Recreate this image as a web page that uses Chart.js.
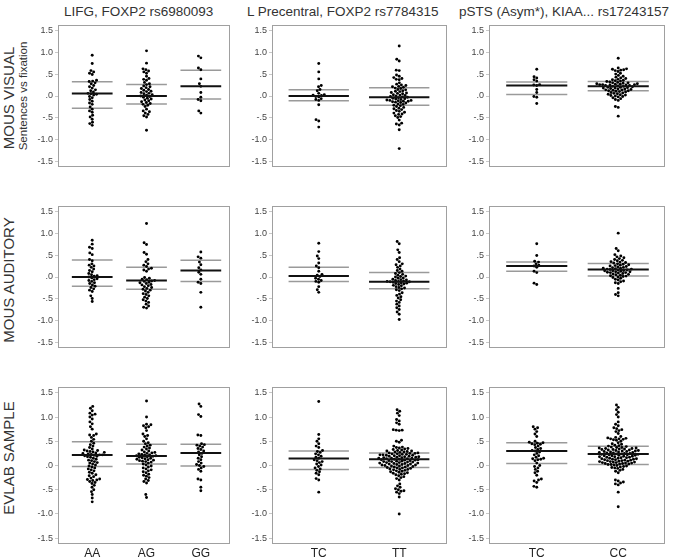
<!DOCTYPE html>
<html>
<head>
<meta charset="utf-8">
<script src="https://cdn.jsdelivr.net/npm/chart.js@4"></script>
<style>
html,body{margin:0;padding:0;background:#fff;}
#wrap{position:relative;width:677px;height:558px;overflow:hidden;font-family:"Liberation Sans",Arial,sans-serif;color:#333;}
canvas{position:absolute;}
.title{position:absolute;top:4px;font-size:13.5px;white-space:nowrap;color:#333;}
.rowlab{position:absolute;white-space:nowrap;transform:translate(-50%,-50%) rotate(-90deg);color:#333;}
</style>
</head>
<body>
<div id="wrap"></div>
<script>
// ---------- labels ----------
const rowNames = ["MOUS VISUAL", "MOUS AUDITORY", "EVLAB SAMPLE"];
const yAxisTitle = "Sentences vs fixation";
const colTitles = ["LIFG, FOXP2 rs6980093", "L Precentral, FOXP2 rs7784315", "pSTS (Asym*), KIAA... rs17243157"];
const col1Cats = ["AA", "AG", "GG"];
const col2Cats = ["TC", "TT"];
const col3Cats = ["TC", "CC"];
const yTickValues = [-1.5, -1, -0.5, 0, 0.5, 1, 1.5];
const yTickLabels = ["-1.5", "-1.0", "-.5", ".0", ".5", "1.0", "1.5"];

// ---------- MOUS VISUAL ----------
const visLifgAA = [0.93,0.74,0.58,0.55,0.52,0.49,0.36,0.34,0.33,0.30,0.28,0.24,0.21,0.18,0.14,0.12,0.09,0.06,0.05,0.04,0.02,-0.01,-0.04,-0.08,-0.12,-0.16,-0.19,-0.25,-0.30,-0.34,-0.37,-0.44,-0.48,-0.53,-0.60,-0.63,-0.67];
const visLifgAG = [1.03,0.75,0.62,0.60,0.57,0.55,0.52,0.45,0.40,0.38,0.36,0.31,0.28,0.26,0.23,0.21,0.19,0.17,0.15,0.13,0.11,0.10,0.08,0.06,0.05,0.03,0.02,0.00,-0.01,-0.03,-0.05,-0.07,-0.09,-0.11,-0.13,-0.15,-0.17,-0.19,-0.21,-0.24,-0.30,-0.34,-0.36,-0.39,-0.42,-0.45,-0.48,-0.78];
const visLifgGG = [0.91,0.87,0.64,0.60,0.39,0.28,0.22,0.08,-0.03,-0.08,-0.11,-0.34,-0.39];
const visPrecTC = [0.74,0.55,0.39,0.24,0.21,0.15,0.12,0.06,0.03,0.02,0.01,-0.01,-0.02,-0.06,-0.08,-0.10,-0.20,-0.54,-0.57,-0.71];
const visPrecTT = [1.14,0.84,0.80,0.59,0.58,0.48,0.45,0.42,0.40,0.38,0.37,0.30,0.27,0.25,0.24,0.22,0.21,0.20,0.18,0.17,0.15,0.14,0.12,0.11,0.10,0.08,0.07,0.06,0.05,0.03,0.02,0.01,0.00,-0.01,-0.02,-0.03,-0.04,-0.05,-0.06,-0.07,-0.08,-0.09,-0.10,-0.10,-0.11,-0.12,-0.12,-0.13,-0.14,-0.15,-0.16,-0.18,-0.19,-0.21,-0.22,-0.24,-0.26,-0.28,-0.29,-0.31,-0.33,-0.35,-0.37,-0.39,-0.41,-0.42,-0.45,-0.47,-0.49,-0.55,-0.62,-0.64,-0.66,-0.77,-1.20];
const visStsTC = [0.61,0.44,0.41,0.37,0.34,0.26,0.25,0.24,0.15,0.08,-0.01,-0.03,-0.17];
const visStsCC = [0.86,0.64,0.62,0.61,0.60,0.59,0.58,0.56,0.52,0.50,0.47,0.45,0.43,0.41,0.40,0.38,0.37,0.36,0.35,0.34,0.33,0.32,0.31,0.30,0.30,0.29,0.28,0.28,0.27,0.27,0.26,0.26,0.26,0.25,0.25,0.24,0.24,0.23,0.22,0.22,0.21,0.20,0.20,0.19,0.18,0.18,0.17,0.16,0.16,0.15,0.14,0.14,0.13,0.12,0.12,0.11,0.10,0.09,0.08,0.07,0.06,0.05,0.04,0.03,0.02,0.01,0.00,-0.01,-0.02,-0.04,-0.06,-0.08,-0.10,-0.24,-0.26,-0.46];
const visLifgMean = [0.055, 0.0, 0.22], visLifgUpper = [0.325, 0.263, 0.588], visLifgLower = [-0.277, -0.18, -0.07];
const visPrecMean = [0.0, -0.03], visPrecUpper = [0.14, 0.19], visPrecLower = [-0.11, -0.21];
const visStsMean = [0.24, 0.22], visStsUpper = [0.32, 0.33], visStsLower = [0.035, 0.12];

// ---------- MOUS AUDITORY ----------
const audLifgAA = [0.84,0.75,0.68,0.65,0.55,0.51,0.40,0.37,0.30,0.27,0.25,0.22,0.18,0.15,0.12,0.08,0.05,0.03,0.02,0.00,-0.02,-0.04,-0.06,-0.08,-0.10,-0.13,-0.15,-0.18,-0.21,-0.24,-0.27,-0.30,-0.33,-0.43,-0.49,-0.56];
const audLifgAG = [1.22,0.78,0.74,0.56,0.52,0.40,0.35,0.30,0.27,0.24,0.20,0.18,0.16,0.13,-0.01,-0.03,-0.05,-0.06,-0.08,-0.09,-0.10,-0.12,-0.13,-0.15,-0.17,-0.18,-0.20,-0.22,-0.24,-0.26,-0.28,-0.30,-0.32,-0.35,-0.38,-0.40,-0.43,-0.46,-0.49,-0.52,-0.55,-0.58,-0.62,-0.66,-0.69,-0.71];
const audLifgGG = [0.57,0.46,0.43,0.34,0.28,0.21,0.16,0.11,0.06,-0.05,-0.12,-0.15,-0.35,-0.69];
const audPrecTC = [0.77,0.58,0.48,0.42,0.32,0.25,0.21,0.13,0.06,0.04,0.01,-0.03,-0.05,-0.08,-0.10,-0.12,-0.22,-0.29,-0.35];
const audPrecTT = [0.81,0.76,0.62,0.56,0.44,0.40,0.35,0.30,0.28,0.25,0.22,0.18,0.15,0.13,0.10,0.08,0.06,0.04,0.02,0.01,0.00,-0.02,-0.03,-0.05,-0.06,-0.07,-0.08,-0.09,-0.10,-0.10,-0.11,-0.11,-0.12,-0.13,-0.14,-0.15,-0.16,-0.17,-0.19,-0.20,-0.22,-0.24,-0.25,-0.27,-0.29,-0.31,-0.36,-0.39,-0.42,-0.45,-0.48,-0.52,-0.55,-0.58,-0.62,-0.66,-0.70,-0.74,-0.80,-0.85,-0.97];
const audStsTC = [0.76,0.49,0.36,0.34,0.30,0.27,0.25,0.22,0.13,0.10,-0.14,-0.17];
const audStsCC = [1.00,0.65,0.60,0.51,0.48,0.46,0.44,0.42,0.40,0.38,0.37,0.35,0.34,0.33,0.32,0.30,0.29,0.28,0.27,0.26,0.25,0.24,0.23,0.22,0.21,0.20,0.20,0.19,0.18,0.18,0.17,0.16,0.16,0.15,0.14,0.14,0.13,0.12,0.12,0.11,0.10,0.10,0.09,0.08,0.07,0.06,0.05,0.04,0.03,0.02,0.01,0.00,-0.01,-0.03,-0.05,-0.07,-0.09,-0.11,-0.13,-0.15,-0.26,-0.36,-0.40,-0.43];
const audLifgMean = [0.0, -0.08, 0.15], audLifgUpper = [0.39, 0.22, 0.38], audLifgLower = [-0.21, -0.28, -0.10];
const audPrecMean = [0.02, -0.11], audPrecUpper = [0.22, 0.10], audPrecLower = [-0.10, -0.27];
const audStsMean = [0.25, 0.17], audStsUpper = [0.34, 0.31], audStsLower = [0.13, 0.02];

// ---------- EVLAB SAMPLE ----------
const evlLifgAA = [1.22,1.18,1.13,1.08,1.06,1.04,1.00,0.96,0.90,0.86,0.80,0.75,0.65,0.63,0.62,0.58,0.54,0.50,0.46,0.43,0.40,0.37,0.34,0.32,0.31,0.30,0.29,0.28,0.27,0.26,0.25,0.24,0.23,0.22,0.22,0.21,0.20,0.19,0.18,0.17,0.15,0.13,0.11,0.10,0.08,0.06,0.05,0.03,0.01,-0.01,-0.03,-0.05,-0.07,-0.09,-0.11,-0.14,-0.16,-0.19,-0.21,-0.23,-0.26,-0.28,-0.29,-0.30,-0.31,-0.33,-0.35,-0.37,-0.41,-0.45,-0.50,-0.54,-0.60,-0.67,-0.75];
const evlLifgAG = [1.33,1.00,0.85,0.84,0.82,0.80,0.78,0.72,0.65,0.62,0.60,0.55,0.50,0.47,0.45,0.42,0.40,0.38,0.36,0.34,0.32,0.30,0.28,0.27,0.26,0.25,0.24,0.23,0.22,0.21,0.20,0.20,0.19,0.18,0.17,0.16,0.15,0.14,0.13,0.12,0.11,0.10,0.09,0.08,0.07,0.05,0.03,0.01,-0.01,-0.03,-0.05,-0.07,-0.09,-0.11,-0.13,-0.15,-0.18,-0.20,-0.22,-0.25,-0.28,-0.31,-0.33,-0.36,-0.60,-0.66];
const evlLifgGG = [1.27,1.22,1.05,1.01,0.63,0.62,0.45,0.43,0.42,0.40,0.38,0.35,0.33,0.30,0.28,0.25,0.22,0.18,0.15,0.12,0.08,0.05,0.02,0.00,-0.02,-0.05,-0.08,-0.12,-0.28,-0.30,-0.45,-0.52];
const evlPrecTC = [1.32,0.64,0.55,0.50,0.45,0.40,0.37,0.31,0.29,0.27,0.24,0.22,0.19,0.17,0.15,0.12,0.10,0.08,0.06,0.03,0.01,-0.02,-0.05,-0.07,-0.10,-0.13,-0.16,-0.19,-0.27,-0.30,-0.55];
const evlPrecTT = [1.15,1.12,1.08,1.03,0.95,0.92,0.88,0.85,0.74,0.73,0.73,0.72,0.52,0.50,0.48,0.40,0.38,0.37,0.36,0.35,0.34,0.33,0.32,0.31,0.30,0.30,0.29,0.28,0.28,0.27,0.26,0.26,0.25,0.25,0.24,0.24,0.23,0.23,0.22,0.22,0.21,0.21,0.20,0.20,0.19,0.19,0.18,0.18,0.17,0.17,0.16,0.16,0.15,0.15,0.15,0.14,0.14,0.13,0.13,0.12,0.12,0.11,0.11,0.10,0.10,0.09,0.09,0.08,0.08,0.07,0.07,0.06,0.06,0.05,0.05,0.04,0.04,0.03,0.03,0.02,0.02,0.01,0.01,0.00,0.00,-0.01,-0.01,-0.02,-0.03,-0.03,-0.04,-0.05,-0.05,-0.06,-0.07,-0.08,-0.08,-0.09,-0.10,-0.11,-0.12,-0.13,-0.14,-0.15,-0.16,-0.17,-0.18,-0.19,-0.21,-0.23,-0.25,-0.27,-0.30,-0.38,-0.42,-0.45,-0.48,-0.50,-0.52,-0.53,-0.55,-0.58,-0.65,-1.00];
const evlStsTC = [0.80,0.78,0.75,0.70,0.65,0.60,0.50,0.48,0.47,0.46,0.45,0.44,0.43,0.40,0.37,0.35,0.33,0.31,0.30,0.28,0.25,0.22,0.20,0.17,0.15,0.14,0.13,0.12,0.10,0.05,0.00,-0.02,-0.05,-0.08,-0.12,-0.15,-0.20,-0.28,-0.30,-0.32,-0.35,-0.43,-0.45];
const evlStsCC = [1.25,1.20,1.15,1.10,1.05,1.00,0.90,0.85,0.82,0.78,0.76,0.74,0.72,0.70,0.66,0.60,0.58,0.57,0.56,0.55,0.55,0.54,0.53,0.52,0.50,0.47,0.45,0.44,0.42,0.41,0.40,0.39,0.38,0.37,0.37,0.36,0.36,0.35,0.35,0.34,0.34,0.33,0.33,0.32,0.32,0.31,0.31,0.30,0.30,0.29,0.29,0.28,0.28,0.27,0.27,0.26,0.26,0.25,0.25,0.24,0.24,0.23,0.23,0.22,0.22,0.21,0.21,0.20,0.20,0.19,0.19,0.18,0.18,0.17,0.17,0.16,0.16,0.15,0.15,0.14,0.14,0.13,0.13,0.12,0.12,0.11,0.11,0.10,0.10,0.09,0.09,0.08,0.08,0.07,0.07,0.06,0.06,0.05,0.05,0.04,0.04,0.03,0.03,0.02,0.02,0.01,0.00,-0.01,-0.02,-0.03,-0.04,-0.05,-0.06,-0.08,-0.10,-0.12,-0.15,-0.30,-0.32,-0.34,-0.36,-0.38,-0.40,-0.55,-0.85];
const evlLifgMean = [0.215, 0.195, 0.26], evlLifgUpper = [0.49, 0.44, 0.44], evlLifgLower = [-0.02, 0.03, -0.01];
const evlPrecMean = [0.145, 0.13], evlPrecUpper = [0.30, 0.26], evlPrecLower = [-0.08, -0.04];
const evlStsMean = [0.30, 0.235], evlStsUpper = [0.47, 0.395], evlStsLower = [0.04, 0.02];

// ---------- panel assembly ----------
const panels = [
  [ {cats: col1Cats, groups: [visLifgAA, visLifgAG, visLifgGG], mean: visLifgMean, up: visLifgUpper, lo: visLifgLower},
    {cats: col2Cats, groups: [visPrecTC, visPrecTT], mean: visPrecMean, up: visPrecUpper, lo: visPrecLower},
    {cats: col3Cats, groups: [visStsTC, visStsCC], mean: visStsMean, up: visStsUpper, lo: visStsLower} ],
  [ {cats: col1Cats, groups: [audLifgAA, audLifgAG, audLifgGG], mean: audLifgMean, up: audLifgUpper, lo: audLifgLower},
    {cats: col2Cats, groups: [audPrecTC, audPrecTT], mean: audPrecMean, up: audPrecUpper, lo: audPrecLower},
    {cats: col3Cats, groups: [audStsTC, audStsCC], mean: audStsMean, up: audStsUpper, lo: audStsLower} ],
  [ {cats: col1Cats, groups: [evlLifgAA, evlLifgAG, evlLifgGG], mean: evlLifgMean, up: evlLifgUpper, lo: evlLifgLower},
    {cats: col2Cats, groups: [evlPrecTC, evlPrecTT], mean: evlPrecMean, up: evlPrecUpper, lo: evlPrecLower},
    {cats: col3Cats, groups: [evlStsTC, evlStsCC], mean: evlStsMean, up: evlStsUpper, lo: evlStsLower} ]
];

// layout (pixels)
const colFrames = [[58, 229, 0.370, 3.537], [272, 446, 0.419, 2.594], [489, 664, 0.414, 2.574]];
const rowTops = [25, 206, 387];
const frameH = 156;
const AXW = 40, XAXH = 15;
const HALF = 0.375;
const DOT = 3.0;

const wrap = document.getElementById('wrap');

// titles and row labels
const titleLefts = [64, 247, 459];
colTitles.forEach((t, i) => {
  const d = document.createElement('div'); d.className = 'title'; d.textContent = t;
  d.style.left = titleLefts[i] + 'px'; wrap.appendChild(d);
});
const rowCenters = [98, 280, 458];
rowNames.forEach((t, i) => {
  const d = document.createElement('div'); d.className = 'rowlab'; d.textContent = t;
  d.style.left = '8px'; d.style.top = rowCenters[i] + 'px'; d.style.fontSize = '15px';
  wrap.appendChild(d);
});
{
  const d = document.createElement('div'); d.className = 'rowlab'; d.textContent = yAxisTitle;
  d.style.left = '23px'; d.style.top = '96px'; d.style.fontSize = '11.5px';
  wrap.appendChild(d);
}

const framePlugin = {
  id: 'frame',
  beforeDatasetsDraw(chart) {
    const a = chart.chartArea, c = chart.ctx;
    c.save(); c.strokeStyle = '#a0a0a0'; c.lineWidth = 1;
    c.strokeRect(a.left + 0.5, a.top + 0.5, a.right - a.left - 1, a.bottom - a.top - 1);
    c.restore();
  }
};

function swarmOffsets(values, chart) {
  const ys = chart.scales.y, xs = chart.scales.x;
  const pxPerUnit = xs.getPixelForValue(2) - xs.getPixelForValue(1);
  const order = values.map((v, i) => i).sort((a, b) => values[a] - values[b]);
  const placed = [];
  const off = new Array(values.length).fill(0);
  for (const i of order) {
    const y = ys.getPixelForValue(values[i]);
    const near = placed.filter(p => Math.abs(p.y - y) < DOT);
    const cands = [0];
    for (const p of near) {
      const dx = Math.sqrt(DOT * DOT - (p.y - y) * (p.y - y));
      cands.push(p.x + dx, p.x - dx);
    }
    cands.sort((a, b) => (Math.abs(a) - Math.abs(b)) || (a - b));
    let best = 0;
    for (const c of cands) {
      if (near.every(p => (p.x - c) * (p.x - c) + (p.y - y) * (p.y - y) >= DOT * DOT - 1e-6)) { best = c; break; }
    }
    placed.push({x: best, y});
    off[i] = best / pxPerUnit;
  }
  return off;
}

panels.forEach((row, r) => {
  row.forEach((p, c) => {
    const [fl, fr, xmin, xmax] = colFrames[c];
    const showX = (r === 2);
    const cv = document.createElement('canvas');
    const w = fr - fl + AXW + 1;
    const h = frameH + 1 + (showX ? XAXH : 0);
    cv.width = w; cv.height = h;
    cv.style.width = w + 'px'; cv.style.height = h + 'px';
    cv.style.left = (fl - AXW) + 'px'; cv.style.top = rowTops[r] + 'px';
    wrap.appendChild(cv);

    const datasets = [];
    p.groups.forEach((vals, g) => {
      const xc = g + 1;
      const lineDs = (y, color, width, ord) => ({
        type: 'line', data: [{x: xc - HALF, y}, {x: xc + HALF, y}],
        borderColor: color, borderWidth: width, pointRadius: 0, pointHoverRadius: 0, fill: false, order: ord
      });
      datasets.push(lineDs(p.up[g], '#9a9a9a', 1.5, 3));
      datasets.push(lineDs(p.lo[g], '#9a9a9a', 1.5, 3));
      datasets.push({
        type: 'scatter', data: vals.map(v => ({x: xc, y: v})),
        backgroundColor: '#000', borderWidth: 0, pointRadius: 1.45, pointHoverRadius: 1.45, order: 2, _vals: vals, _xc: xc
      });
      datasets.push(lineDs(p.mean[g], '#111', 2, 1));
    });

    const chart = new Chart(cv, {
      type: 'scatter',
      data: {datasets},
      plugins: [framePlugin],
      options: {
        responsive: false, devicePixelRatio: 1, animation: false,
        layout: {padding: 0, autoPadding: false},
        events: [],
        plugins: {legend: {display: false}, tooltip: {enabled: false}},
        scales: {
          x: {
            type: 'linear', min: xmin, max: xmax, display: showX,
            grid: {display: false, drawTicks: false, tickLength: 0}, border: {display: false},
            afterBuildTicks: (ax) => { ax.ticks = p.cats.map((k, i) => ({value: i + 1})); },
            ticks: {
              padding: 2, autoSkip: false, maxRotation: 0, color: '#222',
              font: {family: '"Liberation Sans", Arial, sans-serif', size: 12},
              callback: (v) => p.cats[Math.round(v) - 1]
            },
            afterFit: (ax) => { ax.height = XAXH; ax.paddingLeft = 0; ax.paddingRight = 0; }
          },
          y: {
            type: 'linear', min: -1.62, max: 1.62,
            grid: {drawOnChartArea: false, drawTicks: true, tickLength: 3, color: '#c8c8c8'},
            border: {display: false},
            afterBuildTicks: (ax) => { ax.ticks = yTickValues.map(v => ({value: v})); },
            ticks: {
              padding: 2, color: '#444',
              font: {family: '"Liberation Sans", Arial, sans-serif', size: 9},
              callback: (v) => yTickLabels[yTickValues.indexOf(v)]
            },
            afterFit: (ax) => { ax.width = AXW; ax.paddingTop = 0; ax.paddingBottom = 0; }
          }
        }
      }
    });

    chart.data.datasets.forEach(ds => {
      if (ds._vals) {
        const off = swarmOffsets(ds._vals, chart);
        ds.data = ds._vals.map((v, i) => ({x: ds._xc + off[i], y: v}));
      }
    });
    chart.update('none');
  });
});
</script>
</body>
</html>
